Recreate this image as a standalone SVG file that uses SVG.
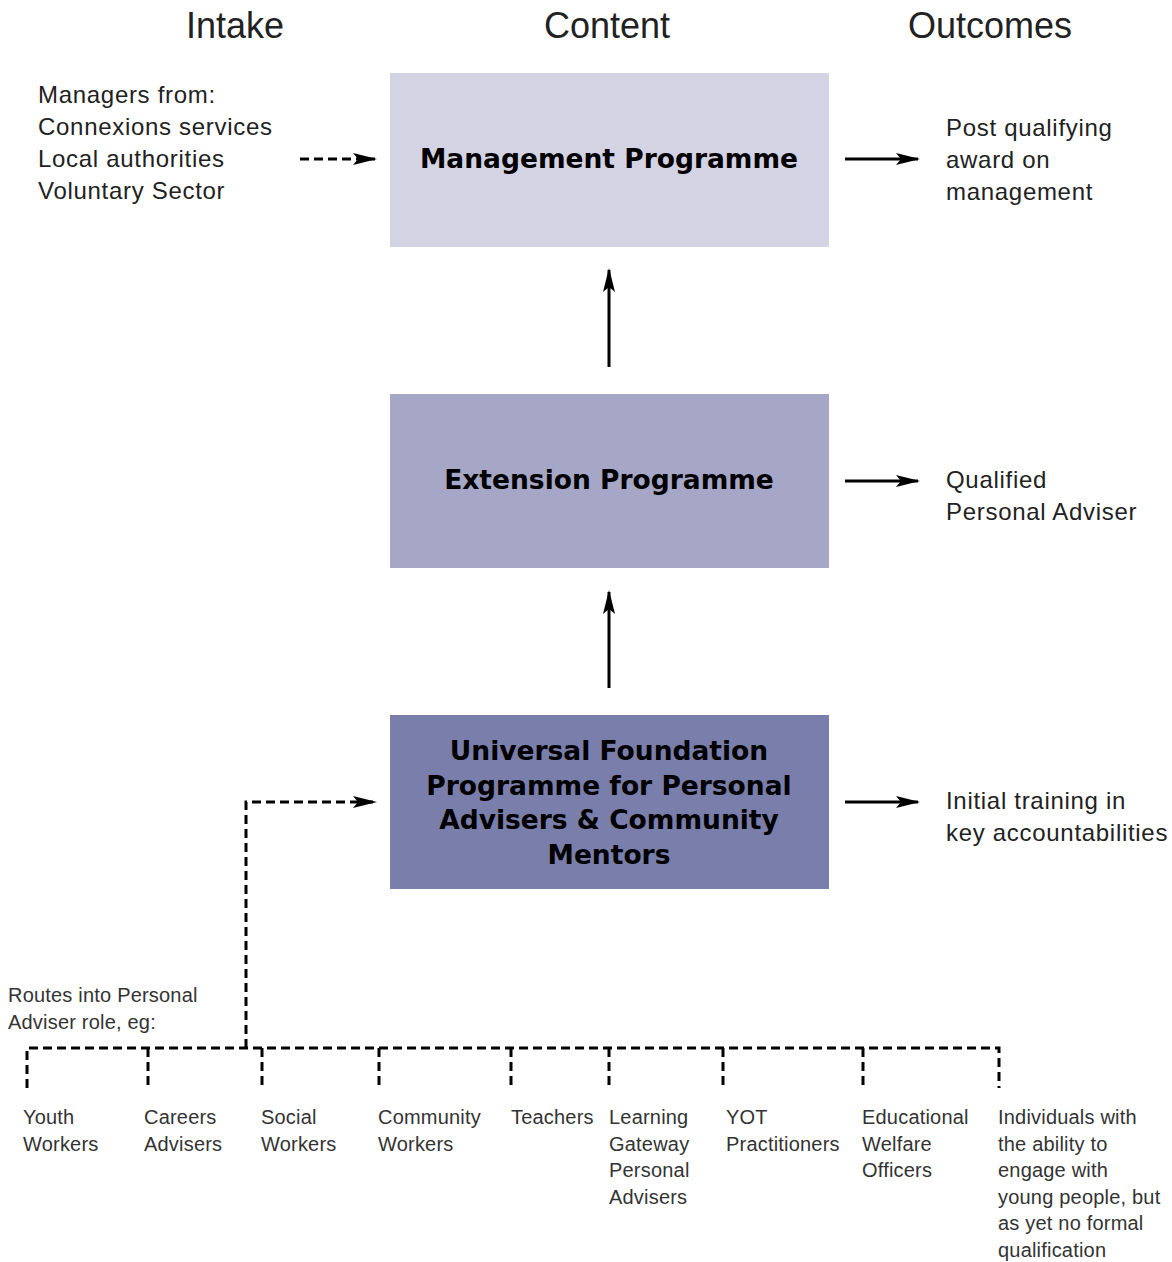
<svg xmlns="http://www.w3.org/2000/svg" width="1172" height="1262" viewBox="0 0 1172 1262">
<style>
.hd{font-family:"Liberation Sans",Arial,sans-serif;font-size:36px;fill:#222;text-anchor:middle}
.tx{font-family:"Liberation Sans",Arial,sans-serif;font-size:24px;fill:#222;letter-spacing:0.7px}
.sm{font-family:"Liberation Sans",Arial,sans-serif;font-size:20px;fill:#333;letter-spacing:0.2px}
.bx{font-family:"DejaVu Sans",Verdana,sans-serif;font-size:26.5px;font-weight:bold;fill:#000;text-anchor:middle}
.ln{stroke:#000;stroke-width:3;fill:none}
.ds{stroke:#000;stroke-width:3;fill:none;stroke-dasharray:9,5}
</style>
<defs>
<marker id="ah" viewBox="0 0 24 12" refX="22" refY="6" markerWidth="24" markerHeight="12" markerUnits="userSpaceOnUse" orient="auto">
<path d="M0,0 L24,6 L0,12 L5,6 z" fill="#000"/>
</marker>
</defs>
<g id="headers">
<text class="hd" x="235" y="38">Intake</text>
<text class="hd" x="607" y="38">Content</text>
<text class="hd" x="990" y="38">Outcomes</text>
</g>
<g id="intake-managers">
<text class="tx" x="38" y="103">Managers from:</text>
<text class="tx" x="38" y="135">Connexions services</text>
<text class="tx" x="38" y="167">Local authorities</text>
<text class="tx" x="38" y="199">Voluntary Sector</text>
</g>
<g id="management">
<rect x="390" y="73" width="439" height="174" fill="#d4d3e4"/>
<text class="bx" x="609" y="168">Management Programme</text>
</g>
<g id="extension">
<rect x="390" y="394" width="439" height="174" fill="#a6a7c7"/>
<text class="bx" x="609" y="489">Extension Programme</text>
</g>
<g id="universal">
<rect x="390" y="715" width="439" height="174" fill="#7a7eab"/>
<text class="bx" x="609" y="760">Universal Foundation</text>
<text class="bx" x="609" y="795">Programme for Personal</text>
<text class="bx" x="609" y="829">Advisers &amp; Community</text>
<text class="bx" x="609" y="864">Mentors</text>
</g>
<g id="outcome-management">
<text class="tx" x="946" y="136">Post qualifying</text>
<text class="tx" x="946" y="168">award on</text>
<text class="tx" x="946" y="200">management</text>
</g>
<g id="outcome-extension">
<text class="tx" x="946" y="488">Qualified</text>
<text class="tx" x="946" y="520">Personal Adviser</text>
</g>
<g id="outcome-universal">
<text class="tx" x="946" y="809">Initial training in</text>
<text class="tx" x="946" y="841">key accountabilities</text>
</g>
<g id="routes-label">
<text class="sm" x="8" y="1002">Routes into Personal</text>
<text class="sm" x="8" y="1029">Adviser role, eg:</text>
</g>
<g id="route-youth"><text class="sm" x="23" y="1124">Youth</text><text class="sm" x="23" y="1151">Workers</text></g>
<g id="route-careers"><text class="sm" x="144" y="1124">Careers</text><text class="sm" x="144" y="1151">Advisers</text></g>
<g id="route-social"><text class="sm" x="261" y="1124">Social</text><text class="sm" x="261" y="1151">Workers</text></g>
<g id="route-community"><text class="sm" x="378" y="1124">Community</text><text class="sm" x="378" y="1151">Workers</text></g>
<g id="route-teachers"><text class="sm" x="511" y="1124">Teachers</text></g>
<g id="route-gateway"><text class="sm" x="609" y="1124">Learning</text><text class="sm" x="609" y="1151">Gateway</text><text class="sm" x="609" y="1177">Personal</text><text class="sm" x="609" y="1204">Advisers</text></g>
<g id="route-yot"><text class="sm" x="726" y="1124">YOT</text><text class="sm" x="726" y="1151">Practitioners</text></g>
<g id="route-ewo"><text class="sm" x="862" y="1124">Educational</text><text class="sm" x="862" y="1151">Welfare</text><text class="sm" x="862" y="1177">Officers</text></g>
<g id="route-individuals"><text class="sm" x="998" y="1124">Individuals with</text><text class="sm" x="998" y="1151">the ability to</text><text class="sm" x="998" y="1177">engage with</text><text class="sm" x="998" y="1204">young people, but</text><text class="sm" x="998" y="1230">as yet no formal</text><text class="sm" x="998" y="1257">qualification</text></g>
<g id="connectors">
<line class="ds" x1="300" y1="159" x2="375" y2="159" marker-end="url(#ah)"/>
<line class="ln" x1="845" y1="159" x2="918" y2="159" marker-end="url(#ah)"/>
<line class="ln" x1="609" y1="367" x2="609" y2="270" marker-end="url(#ah)"/>
<line class="ln" x1="845" y1="481" x2="918" y2="481" marker-end="url(#ah)"/>
<line class="ln" x1="609" y1="688" x2="609" y2="592" marker-end="url(#ah)"/>
<line class="ln" x1="845" y1="802" x2="918" y2="802" marker-end="url(#ah)"/>
<polyline class="ds" points="246,1048 246,802 375,802" marker-end="url(#ah)"/>
<polyline class="ds" points="27,1088 27,1048 999,1048 999,1088"/>
<line class="ds" x1="148" y1="1048" x2="148" y2="1088"/>
<line class="ds" x1="262" y1="1048" x2="262" y2="1088"/>
<line class="ds" x1="379" y1="1048" x2="379" y2="1088"/>
<line class="ds" x1="511" y1="1048" x2="511" y2="1088"/>
<line class="ds" x1="609" y1="1048" x2="609" y2="1088"/>
<line class="ds" x1="723" y1="1048" x2="723" y2="1088"/>
<line class="ds" x1="863" y1="1048" x2="863" y2="1088"/>
</g>
</svg>
